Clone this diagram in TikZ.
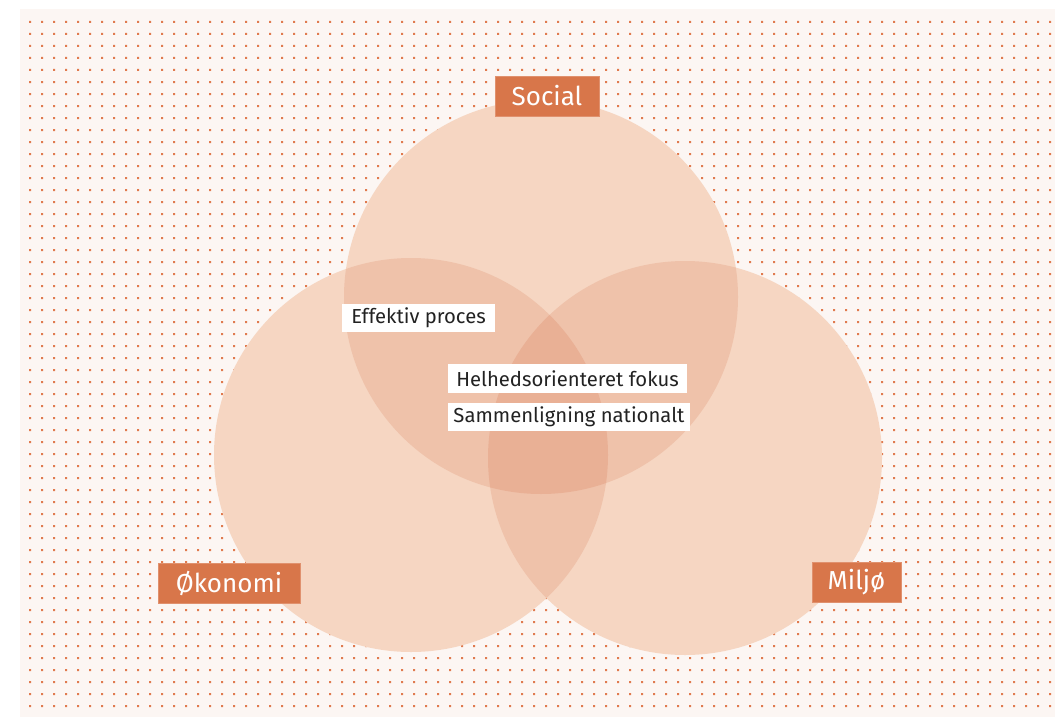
\documentclass[tikz,border=0pt]{standalone}
\usepackage{fontspec}
\setmainfont{Fira Sans}
\definecolor{panelc}{HTML}{FCF6F3}
\definecolor{dotc}{HTML}{E07A4E}
\definecolor{onec}{HTML}{F6D6C2}
\definecolor{twoc}{HTML}{EFC2AA}
\definecolor{threec}{HTML}{E9B095}
\definecolor{boxc}{HTML}{D8764A}
\definecolor{textc}{HTML}{222222}
\tikzset{
  headbox/.style={fill=boxc, draw=boxc!80!white, line width=0.6pt, text=white, inner sep=0pt,
    minimum height=30pt, font=\fontsize{19.5}{23}\selectfont},
  notebox/.style={fill=white, text=textc, inner sep=0pt, minimum height=21.5pt,
    font=\fontsize{15.2}{18}\selectfont},
}
\begin{document}
\begin{tikzpicture}[x=0.75pt,y=-0.75pt]
\useasboundingbox (0,0) rectangle (1055,717);
\fill[white] (0,0) rectangle (1055,717);
\fill[panelc] (20,9) rectangle (1055,717);
\fill[dotc] \foreach \i in {0,...,85} { \foreach \j in {0,...,57} { (29+12*\i, 21+12*\j) rectangle ++(2,2) } };
\coordinate (S) at (541,297);
\coordinate (O) at (411,455);
\coordinate (M) at (685,458);
\def\rad{147.75pt}
% single
\fill[onec] (S) circle[radius=\rad];
\fill[onec] (O) circle[radius=\rad];
\fill[onec] (M) circle[radius=\rad];
% pairs
\begin{scope}\clip (S) circle[radius=\rad]; \fill[twoc] (O) circle[radius=\rad]; \fill[twoc] (M) circle[radius=\rad];\end{scope}
\begin{scope}\clip (O) circle[radius=\rad]; \fill[twoc] (M) circle[radius=\rad];\end{scope}
% triple
\begin{scope}\clip (S) circle[radius=\rad]; \clip (O) circle[radius=\rad]; \fill[threec] (M) circle[radius=\rad];\end{scope}
% labels
\node[headbox, minimum width=78pt] (social) at (547,96) {Social};
\node[headbox, minimum width=106.5pt] (okonomi) at (229,583) {Økonomi};
\node[headbox, minimum width=66.75pt] (miljo) at (856.5,582.5) {Miljø};
\node[notebox, minimum width=114.75pt] (effektiv) at (418.5,318) {Effektiv proces};
\node[notebox, minimum width=179.25pt] (helhed) at (567.5,378.5) {Helhedsorienteret fokus};
\node[notebox, minimum width=181.5pt] (sammen) at (569,417) {Sammenligning nationalt};
\end{tikzpicture}
\end{document}
